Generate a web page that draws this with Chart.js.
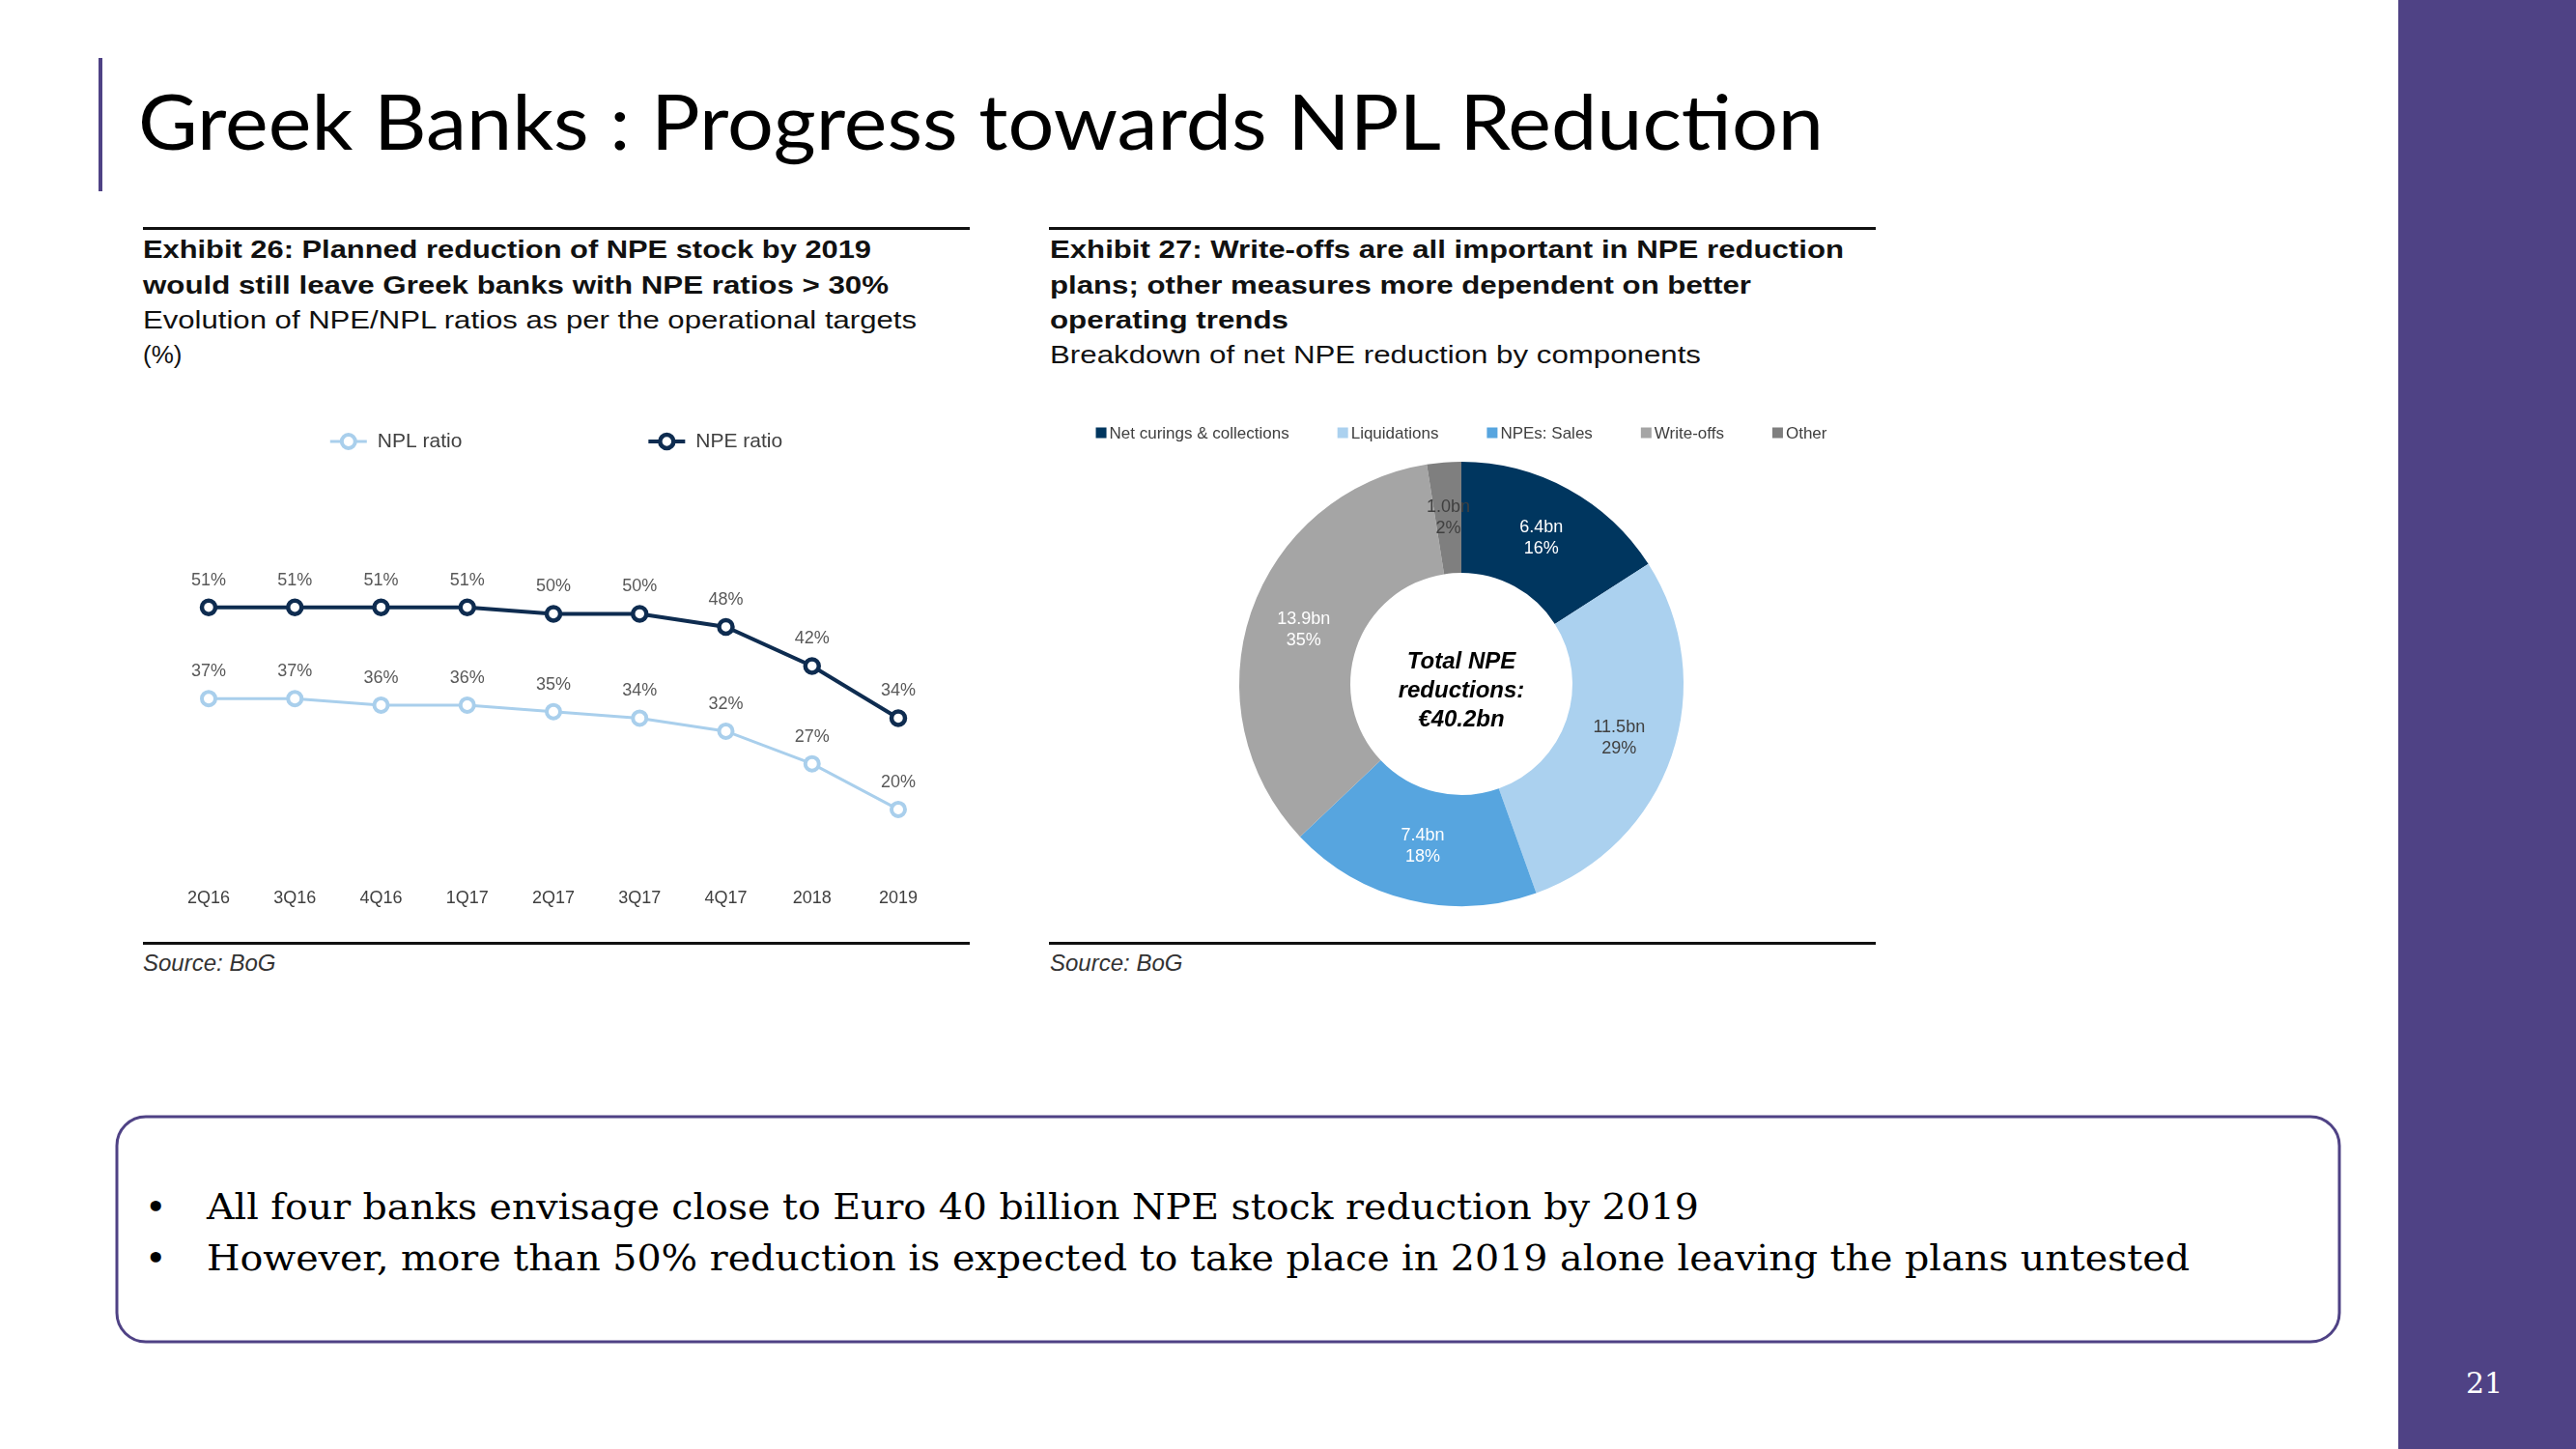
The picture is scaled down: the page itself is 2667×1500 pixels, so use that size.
<!DOCTYPE html>
<html>
<head>
<meta charset="utf-8">
<title>Greek Banks : Progress towards NPL Reduction</title>
<script src="https://cdn.jsdelivr.net/npm/chart.js@4.4.1/dist/chart.umd.min.js"></script>
<style>
  html, body { margin: 0; padding: 0; background: #fff; }
  body { width: 2667px; height: 1500px; position: relative; overflow: hidden; }
  #page { position: absolute; left: 0; top: 0; }
  .box { position: absolute; }
  .ex { font-family: "Liberation Sans", Arial, sans-serif; font-size: 26px; fill: #111; }
  .exb { font-weight: bold; }
  .src { font-family: "Liberation Sans", Arial, sans-serif; font-size: 24px; font-style: italic; fill: #333; }
  .note { font-family: "DejaVu Serif", serif; font-size: 38px; fill: #000; }
</style>
</head>
<body>

<svg id="page" width="2667" height="1500">
  <!-- right band + page number -->
  <rect x="2483" y="0" width="184" height="1500" fill="#4F4285"/>
  <text x="2572" y="1442" text-anchor="middle" font-family="DejaVu Serif, serif" font-size="30" fill="#fff">21</text>

  <!-- slide title -->
  <rect x="102" y="60" width="4" height="138" fill="#4F4285"/>
  <text x="143" y="155" font-family="Lato, sans-serif" font-size="80" fill="#000" textLength="1745" lengthAdjust="spacingAndGlyphs">Greek Banks : Progress towards NPL Reduction</text>

  <!-- exhibit 26 -->
  <rect x="148" y="235" width="856" height="3" fill="#111"/>
  <text class="ex exb" x="148" y="267" textLength="754" lengthAdjust="spacingAndGlyphs">Exhibit 26: Planned reduction of NPE stock by 2019</text>
  <text class="ex exb" x="148" y="304" textLength="772" lengthAdjust="spacingAndGlyphs">would still leave Greek banks with NPE ratios &gt; 30%</text>
  <text class="ex" x="148" y="340" textLength="801" lengthAdjust="spacingAndGlyphs">Evolution of NPE/NPL ratios as per the operational targets</text>
  <text class="ex" x="148" y="376">(%)</text>
  <rect x="148" y="975" width="856" height="3" fill="#111"/>
  <text class="src" x="148" y="1005">Source: BoG</text>

  <!-- exhibit 27 -->
  <rect x="1086" y="235" width="856" height="3" fill="#111"/>
  <text class="ex exb" x="1087" y="267" textLength="822" lengthAdjust="spacingAndGlyphs">Exhibit 27: Write-offs are all important in NPE reduction</text>
  <text class="ex exb" x="1087" y="304" textLength="726" lengthAdjust="spacingAndGlyphs">plans; other measures more dependent on better</text>
  <text class="ex exb" x="1087" y="340" textLength="247" lengthAdjust="spacingAndGlyphs">operating trends</text>
  <text class="ex" x="1087" y="376" textLength="674" lengthAdjust="spacingAndGlyphs">Breakdown of net NPE reduction by components</text>
  <rect x="1086" y="975" width="856" height="3" fill="#111"/>
  <text class="src" x="1087" y="1005">Source: BoG</text>

  <!-- key points box -->
  <rect x="121" y="1156" width="2301" height="233" rx="30" ry="30" fill="none" stroke="#4F4285" stroke-width="3"/>
  <text class="note" x="150" y="1262">•</text>
  <text class="note" x="214" y="1262" textLength="1545" lengthAdjust="spacingAndGlyphs">All four banks envisage close to Euro 40 billion NPE stock reduction by 2019</text>
  <text class="note" x="150" y="1315">•</text>
  <text class="note" x="214" y="1315" textLength="2053" lengthAdjust="spacingAndGlyphs">However, more than 50% reduction is expected to take place in 2019 alone leaving the plans untested</text>
</svg>

<div class="box" style="left:148px;top:420px;width:856px;height:540px"><canvas id="ratios"></canvas></div>
<div class="box" style="left:1086px;top:420px;width:856px;height:540px"><canvas id="breakdown"></canvas></div>

<script>
  var periods = ['2Q16', '3Q16', '4Q16', '1Q17', '2Q17', '3Q17', '4Q17', '2018', '2019'];
  var nplRatio = [37, 37, 36, 36, 35, 34, 32, 27, 20];
  var npeRatio = [51, 51, 51, 51, 50, 50, 48, 42, 34];

  var components = ['Net curings & collections', 'Liquidations', 'NPEs: Sales', 'Write-offs', 'Other'];
  var reductionBn = [6.4, 11.5, 7.4, 13.9, 1.0];

  var sans = '"Liberation Sans", Arial, sans-serif';

  // legend: short line with a ring, like the source
  var ringLegend = {
    id: 'ringLegend',
    afterDraw: function(chart) {
      var ctx = chart.ctx, sets = chart.data.datasets;
      var seg = 38, gapText = 11, gapItem = 193, y = 37;
      ctx.save();
      ctx.font = '21px ' + sans;
      var widths = sets.map(function(ds) { return seg + gapText + ctx.measureText(ds.label).width; });
      var total = widths.reduce(function(a, b) { return a + b; }, 0) + gapItem * (sets.length - 1);
      var x = chart.width / 2 - total / 2;
      sets.forEach(function(ds, i) {
        ctx.strokeStyle = ds.borderColor;
        ctx.lineWidth = ds.borderWidth;
        ctx.beginPath(); ctx.moveTo(x, y); ctx.lineTo(x + seg, y); ctx.stroke();
        ctx.beginPath(); ctx.arc(x + seg / 2, y, ds.pointRadius, 0, Math.PI * 2);
        ctx.fillStyle = '#fff'; ctx.fill();
        ctx.lineWidth = ds.pointBorderWidth; ctx.stroke();
        ctx.fillStyle = '#404040'; ctx.textAlign = 'left'; ctx.textBaseline = 'middle';
        ctx.fillText(ds.label, x + seg + gapText, y);
        x += widths[i] + gapItem;
      });
      ctx.restore();
    }
  };

  var pointValues = {
    id: 'pointValues',
    afterDatasetsDraw: function(chart) {
      var ctx = chart.ctx;
      ctx.save();
      ctx.font = '18px ' + sans;
      ctx.fillStyle = '#595959';
      ctx.textAlign = 'center';
      ctx.textBaseline = 'middle';
      chart.data.datasets.forEach(function(ds, i) {
        chart.getDatasetMeta(i).data.forEach(function(pt, j) {
          ctx.fillText(ds.data[j] + '%', pt.x, pt.y - 28);
        });
      });
      ctx.restore();
    }
  };

  var ratios = {
    type: 'line',
    data: {
      labels: periods,
      datasets: [{
        label: 'NPL ratio',
        data: nplRatio,
        borderColor: '#A9CFEC',
        borderWidth: 3,
        pointRadius: 7,
        pointBorderWidth: 4,
        pointBackgroundColor: '#fff',
        pointBorderColor: '#A9CFEC',
        tension: 0
      }, {
        label: 'NPE ratio',
        data: npeRatio,
        borderColor: '#0E2C50',
        borderWidth: 4,
        pointRadius: 7,
        pointBorderWidth: 4.5,
        pointBackgroundColor: '#fff',
        pointBorderColor: '#0E2C50',
        tension: 0
      }]
    },
    options: {
      responsive: true,
      maintainAspectRatio: false,
      animation: false,
      layout: { padding: { left: 68, right: 74, top: 148, bottom: 13 } },
      plugins: { legend: { display: false }, tooltip: { enabled: false } },
      scales: {
        x: {
          offset: false,
          grid: { display: false },
          border: { display: false },
          ticks: { color: '#404040', font: { size: 18, family: sans }, padding: 6, maxRotation: 0 }
        },
        y: { display: false, min: 10, max: 60 }
      }
    },
    plugins: [ringLegend, pointValues]
  };

  var sliceColors = ['#00365F', '#ABD1EF', '#57A5DF', '#A5A5A5', '#7F7F7F'];
  var sliceTextColors = ['#fff', '#404040', '#fff', '#fff', '#404040'];

  var donutText = {
    id: 'donutText',
    afterDraw: function(chart) {
      var ctx = chart.ctx;
      var ds = chart.data.datasets[0];
      var total = ds.data.reduce(function(a, b) { return a + b; }, 0);
      var arcs = chart.getDatasetMeta(0).data;
      ctx.save();
      ctx.textAlign = 'center';
      ctx.textBaseline = 'middle';

      // slice labels
      ctx.font = '18px ' + sans;
      arcs.forEach(function(arc, i) {
        var p = arc.getCenterPoint();
        ctx.fillStyle = sliceTextColors[i];
        ctx.fillText(ds.data[i].toFixed(1) + 'bn', p.x, p.y - 11);
        ctx.fillText(Math.round(ds.data[i] / total * 100) + '%', p.x, p.y + 11);
      });

      // centre text
      var cx = arcs[0].x, cy = arcs[0].y;
      ctx.fillStyle = '#000';
      ctx.font = 'italic bold 24px ' + sans;
      ctx.fillText('Total NPE', cx, cy - 23);
      ctx.fillText('reductions:', cx, cy + 7);
      ctx.fillText('\u20AC' + total.toFixed(1) + 'bn', cx, cy + 37);

      // legend row
      var box = 11, gapText = 3, gapItem = 50, y = 28;
      ctx.font = '17px ' + sans;
      var widths = chart.data.labels.map(function(l) { return box + gapText + ctx.measureText(l).width; });
      var width = widths.reduce(function(a, b) { return a + b; }, 0) + gapItem * (widths.length - 1);
      var x = cx - width / 2;
      ctx.textAlign = 'left';
      chart.data.labels.forEach(function(l, i) {
        ctx.fillStyle = sliceColors[i];
        ctx.fillRect(x, y - box / 2, box, box);
        ctx.fillStyle = '#404040';
        ctx.fillText(l, x + box + gapText, y + 1);
        x += widths[i] + gapItem;
      });
      ctx.restore();
    }
  };

  var breakdown = {
    type: 'doughnut',
    data: {
      labels: components,
      datasets: [{
        data: reductionBn,
        backgroundColor: sliceColors,
        borderWidth: 0
      }]
    },
    options: {
      responsive: true,
      maintainAspectRatio: false,
      animation: false,
      cutout: '50%',
      layout: { padding: { left: 197, right: 199, top: 58, bottom: 22 } },
      plugins: { legend: { display: false }, tooltip: { enabled: false } }
    },
    plugins: [donutText]
  };

  window.onload = function() {
    new Chart(document.getElementById('ratios').getContext('2d'), ratios);
    new Chart(document.getElementById('breakdown').getContext('2d'), breakdown);
  };
</script>
</body>
</html>
